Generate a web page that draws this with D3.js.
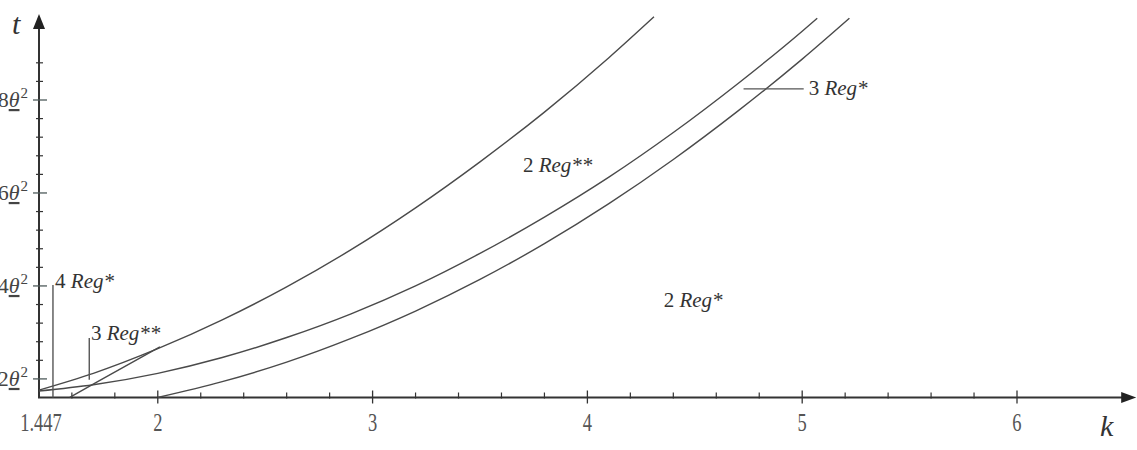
<!DOCTYPE html>
<html>
<head>
<meta charset="utf-8">
<script src="https://cdn.jsdelivr.net/npm/d3@7/dist/d3.min.js"></script>
<style>
  body { margin: 0; background: #fff; }
  svg { display: block; }
  text { font-family: "Liberation Serif", "Times New Roman", serif; fill: #3c3c3c; }
</style>
</head>
<body>
<div id="chart"></div>
<script>
const width = 1137;
const height = 450;

// t is measured in units of θ² (underlined theta)
const upperK = [1.447, 1.7, 2.0, 2.3, 2.6, 2.9, 3.2, 3.5, 3.8, 4.1, 4.31];
const upperT = [1.76, 2.12, 2.65, 3.27, 3.98, 4.78, 5.68, 6.67, 7.74, 8.91, 9.79];

const middleK = [1.447, 1.7, 2.0, 2.3, 2.6, 2.9, 3.2, 3.5, 3.8, 4.1, 4.4, 4.7, 5.0, 5.07];
const middleT = [1.74, 1.875, 2.12, 2.46, 2.89, 3.40, 4.00, 4.70, 5.48, 6.34, 7.30, 8.35, 9.48, 9.76];

const lowerK = [2.0, 2.3, 2.6, 2.9, 3.2, 3.5, 3.8, 4.1, 4.4, 4.7, 5.0, 5.22];
const lowerT = [1.6, 1.94, 2.36, 2.87, 3.46, 4.14, 4.91, 5.77, 6.72, 7.76, 8.88, 9.76];

// short boundary closing the "3 Reg**" wedge
const wedgeK = [1.59, 1.72, 2.01];
const wedgeT = [1.6, 1.94, 2.69];

const kOrigin = 1.447;
const originLabel = "1.447";
const xMajorTicks = [2, 3, 4, 5, 6];
const xTickLabels = ["2", "3", "4", "5", "6"];
const xMinorTicks = [1.6, 1.8, 2.2, 2.4, 2.6, 2.8, 3.2, 3.4, 3.6, 3.8, 4.2, 4.4, 4.6, 4.8,
                     5.2, 5.4, 5.6, 5.8];

const tOrigin = 1.6;
const yMajorTicks = [2, 4, 6, 8];
const yTickDigits = ["2", "4", "6", "8"];
const yMinorTicks = [2.4, 2.8, 3.2, 3.6, 4.4, 4.8, 5.2, 5.6, 6.4, 6.8, 7.2, 7.6, 8.4, 8.8];

// region annotations: [number, stars, k, t]
const regionLabels = [
    ["2", "**", 3.70, 6.45],
    ["2", "*", 4.355, 3.55],
    ["3", "*", 5.03, 8.11],
    ["4", "*", 1.522, 3.96],
    ["3", "**", 1.689, 2.84]
];

const x = d3.scaleLinear().domain([kOrigin, 6]).range([39, 1017]);
const y = d3.scaleLinear().domain([tOrigin, 8]).range([397.5, 100]);

const svg = d3.select("#chart")
    .append("svg")
    .attr("width", width)
    .attr("height", height);

const axisColor = "#333";
const curveColor = "#4a4a4a";

const x0 = x(kOrigin);
const y0 = y(tOrigin);
const yTop = y(9.85);
const xEnd = x(6.555);

// axes
svg.append("line")
    .attr("x1", x0).attr("y1", y0)
    .attr("x2", x0).attr("y2", yTop + 10)
    .attr("stroke", axisColor).attr("stroke-width", 2);

svg.append("line")
    .attr("x1", x0 - 1).attr("y1", y0)
    .attr("x2", xEnd - 10).attr("y2", y0)
    .attr("stroke", axisColor).attr("stroke-width", 2);

svg.append("path")
    .attr("d", `M${x0},${yTop} L${x0 - 6},${yTop + 15} L${x0 + 6},${yTop + 15} Z`)
    .attr("fill", "#222");

svg.append("path")
    .attr("d", `M${xEnd},${y0} L${xEnd - 15},${y0 - 5.5} L${xEnd - 15},${y0 + 5.5} Z`)
    .attr("fill", "#222");

// x ticks
svg.append("g")
    .selectAll("line")
    .data(xMinorTicks)
    .enter().append("line")
    .attr("x1", d => x(d)).attr("x2", d => x(d))
    .attr("y1", y0 - 5).attr("y2", y0 + 1)
    .attr("stroke", axisColor).attr("stroke-width", 1.2);

svg.append("g")
    .selectAll("line")
    .data(xMajorTicks)
    .enter().append("line")
    .attr("x1", d => x(d)).attr("x2", d => x(d))
    .attr("y1", y0 - 7).attr("y2", y0 + 6)
    .attr("stroke", axisColor).attr("stroke-width", 1.3);

const xLabelG = svg.append("g");
xLabelG.selectAll("text")
    .data(xMajorTicks)
    .enter().append("text")
    .attr("transform", d => `translate(${x(d)},${y0 + 33}) scale(0.74,1)`)
    .attr("text-anchor", "middle")
    .attr("font-size", 25)
    .style("fill", "#555")
    .text((d, i) => xTickLabels[i]);

xLabelG.append("text")
    .attr("transform", `translate(${x0 + 2},${y0 + 33}) scale(0.74,1)`)
    .attr("text-anchor", "middle")
    .attr("font-size", 25)
    .style("fill", "#555")
    .text(originLabel);

// y ticks
svg.append("g")
    .selectAll("line")
    .data(yMinorTicks)
    .enter().append("line")
    .attr("x1", x0 - 3).attr("x2", x0 + 4)
    .attr("y1", d => y(d)).attr("y2", d => y(d))
    .attr("stroke", axisColor).attr("stroke-width", 1.2);

svg.append("g")
    .selectAll("line")
    .data(yMajorTicks)
    .enter().append("line")
    .attr("x1", x0 - 6).attr("x2", x0 + 8)
    .attr("y1", d => y(d)).attr("y2", d => y(d))
    .attr("stroke", "#4d5a5a").attr("stroke-width", 1.3);

const yLabels = svg.append("g")
    .selectAll("text")
    .data(yMajorTicks)
    .enter().append("text")
    .attr("x", x0 - 11)
    .attr("y", d => y(d) + 7)
    .attr("text-anchor", "end")
    .attr("font-size", 22)
    .style("fill", "#444");

yLabels.append("tspan").text((d, i) => yTickDigits[i]);
yLabels.append("tspan")
    .attr("font-style", "italic")
    .attr("text-decoration", "underline")
    .text("θ");
yLabels.append("tspan")
    .attr("font-size", 15)
    .attr("dy", -9)
    .attr("dx", 1)
    .text("2");

// axis names
svg.append("text")
    .attr("x", 12).attr("y", 34)
    .attr("font-size", 30)
    .attr("font-style", "italic")
    .style("fill", "#333")
    .text("t");

svg.append("text")
    .attr("x", 1100).attr("y", 436)
    .attr("font-size", 30)
    .attr("font-style", "italic")
    .style("fill", "#333")
    .text("k");

// curves
const line = d3.line()
    .x(d => x(d[0]))
    .y(d => y(d[1]))
    .curve(d3.curveMonotoneX);

const curves = [
    d3.zip(upperK, upperT),
    d3.zip(middleK, middleT),
    d3.zip(lowerK, lowerT),
    d3.zip(wedgeK, wedgeT)
];

svg.append("g")
    .selectAll("path")
    .data(curves)
    .enter().append("path")
    .attr("d", line)
    .attr("fill", "none")
    .attr("stroke", curveColor)
    .attr("stroke-width", 1.4);

// pointer lines for the small regions
const pointers = [
    [[1.512, 4.02], [1.512, tOrigin]],
    [[1.681, 2.88], [1.681, 1.98]],
    [[4.727, 8.24], [5.007, 8.24]]
];

svg.append("g")
    .selectAll("path")
    .data(pointers)
    .enter().append("path")
    .attr("d", d3.line().x(d => x(d[0])).y(d => y(d[1])))
    .attr("fill", "none")
    .attr("stroke", "#555")
    .attr("stroke-width", 1.4);

// region labels
const reg = svg.append("g")
    .selectAll("text")
    .data(regionLabels)
    .enter().append("text")
    .attr("x", d => x(d[2]))
    .attr("y", d => y(d[3]))
    .attr("font-size", 21)
    .style("fill", "#333");

reg.append("tspan").text(d => d[0] + " ");
reg.append("tspan").attr("font-style", "italic").text(d => "Reg" + d[1]);
</script>
</body>
</html>
